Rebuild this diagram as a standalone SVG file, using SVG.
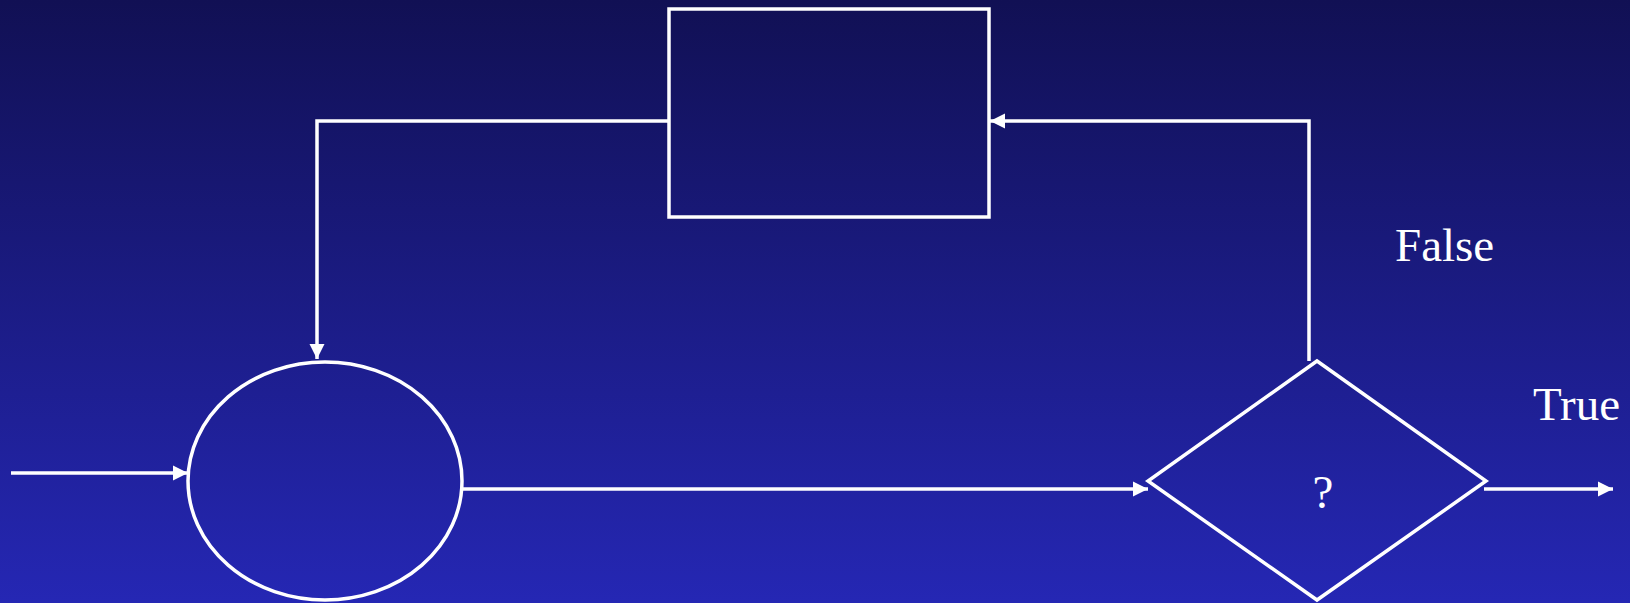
<svg xmlns="http://www.w3.org/2000/svg" width="1630" height="603" viewBox="0 0 1630 603">
  <defs>
    <linearGradient id="bg" x1="0" y1="0" x2="0" y2="1">
      <stop offset="0" stop-color="#111054"/>
      <stop offset="1" stop-color="#2527b4"/>
    </linearGradient>
    <marker id="arrow" markerUnits="userSpaceOnUse" markerWidth="16" markerHeight="16" viewBox="0 0 16 16" refX="15" refY="8" orient="auto">
      <path d="M0,0.5 L15,8 L0,15.5 Z" fill="#ffffff"/>
    </marker>
    <style>
      .shape { fill: none; stroke: #ffffff; stroke-width: 3.5; }
      .conn { fill: none; stroke: #ffffff; stroke-width: 3.5; }
      .label { fill: #ffffff; font-family: "Liberation Serif", "Times New Roman", serif; font-size: 47px; }
    </style>
  </defs>
  <rect x="0" y="0" width="1630" height="603" fill="url(#bg)"/>

  <g id="connectors">
    <line class="conn" x1="11" y1="473" x2="188" y2="473" marker-end="url(#arrow)"/>
    <line class="conn" x1="462" y1="489" x2="1148" y2="489" marker-end="url(#arrow)"/>
    <line class="conn" x1="1484" y1="489" x2="1613" y2="489" marker-end="url(#arrow)"/>
    <polyline class="conn" points="1309,361 1309,121 990,121" marker-end="url(#arrow)"/>
    <polyline class="conn" points="669,121 317,121 317,359" marker-end="url(#arrow)"/>
  </g>

  <g id="process">
    <rect class="shape" x="669" y="9" width="320" height="208" stroke-width="4"/>
  </g>

  <g id="start">
    <ellipse class="shape" cx="325" cy="481" rx="137" ry="119"/>
  </g>

  <g id="decision">
    <polygon class="shape" points="1317,361 1486,481 1317,600 1148,481"/>
    <text class="label" x="1323" y="508" text-anchor="middle">?</text>
  </g>

  <g id="label-false">
    <text class="label" x="1395" y="261">False</text>
  </g>
  <g id="label-true">
    <text class="label" x="1533" y="420">True</text>
  </g>
</svg>
